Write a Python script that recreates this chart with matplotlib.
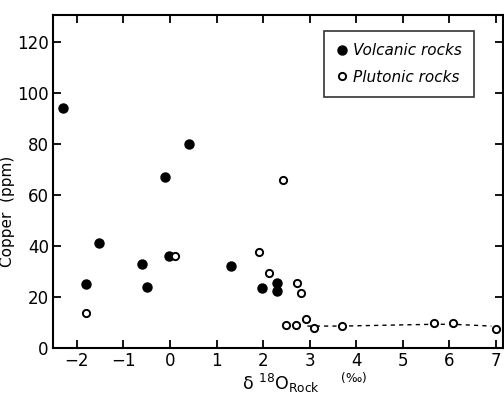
import matplotlib.pyplot as plt

# Volcanic rocks (filled)
volc_x = [-2.3, 0.4, -0.1, -1.52, -1.8, -0.6, -0.5, -0.02, 1.3, 1.97, 2.3, 2.3]
volc_y = [94, 80, 67, 41, 25, 33, 24, 36, 32, 23.5, 25.5, 22.5]

# Plutonic rocks (open)
plut_x = [-1.8, 0.1, 2.43, 1.9, 2.12, 2.72, 2.81, 2.5, 2.7, 2.92, 3.1, 3.7, 5.67, 6.08, 7.0]
plut_y = [13.7, 36, 66, 37.5, 29.5, 25.5, 21.5, 9.2, 9.2, 11.5, 7.8, 8.6, 9.7, 9.7, 7.3]

# dashed trend across the low plutonic values
trend_x = [2.95, 3.7, 5.67, 6.08, 6.9]
trend_y = [8.6, 8.6, 9.3, 9.3, 8.6]

plt.rcParams['font.family'] = ['DejaVu Sans']

fig = plt.figure(figsize=(5.04, 3.95), dpi=100)
ax = fig.add_axes([0.105, 0.119, 0.893, 0.843])

ax.plot(trend_x, trend_y, color='black', linestyle=(0, (3, 3)), linewidth=1.0, zorder=1)
ax.plot(volc_x, volc_y, 'o', color='black', markersize=6.5, linestyle='none',
        label='Volcanic rocks', zorder=3)
ax.plot(plut_x, plut_y, 'o', markerfacecolor='white', markeredgecolor='black',
        markeredgewidth=1.4, markersize=5.2, linestyle='none',
        label='Plutonic rocks', zorder=3)

ax.set_xlim(-2.515, 7.15)
ax.set_ylim(0, 130.6)
ax.set_xticks(range(-2, 8))
ax.set_yticks(range(0, 121, 20))
ax.tick_params(direction='in', length=6, width=1.3, labelsize=12,
               top=True, right=True, pad=3)
for s in ax.spines.values():
    s.set_linewidth(1.5)

ax.set_ylabel('Copper  (ppm)', fontsize=11)
ax.yaxis.set_label_coords(-0.085, 0.41)
ax.set_xlabel('δ $^{18}$O$_{\\rm Rock}$    $^{(‰)}$', fontsize=12.5)
ax.xaxis.set_label_coords(0.56, -0.068)

leg = ax.legend(loc='upper right', bbox_to_anchor=(0.935, 0.952), frameon=True,
                fancybox=False, edgecolor='black', handletextpad=0.3,
                handlelength=0.8, borderpad=0.8, labelspacing=0.75,
                borderaxespad=0,
                prop={'style': 'italic', 'size': 11})
leg.get_frame().set_linewidth(1.2)

plt.savefig('out.png', dpi=100)
